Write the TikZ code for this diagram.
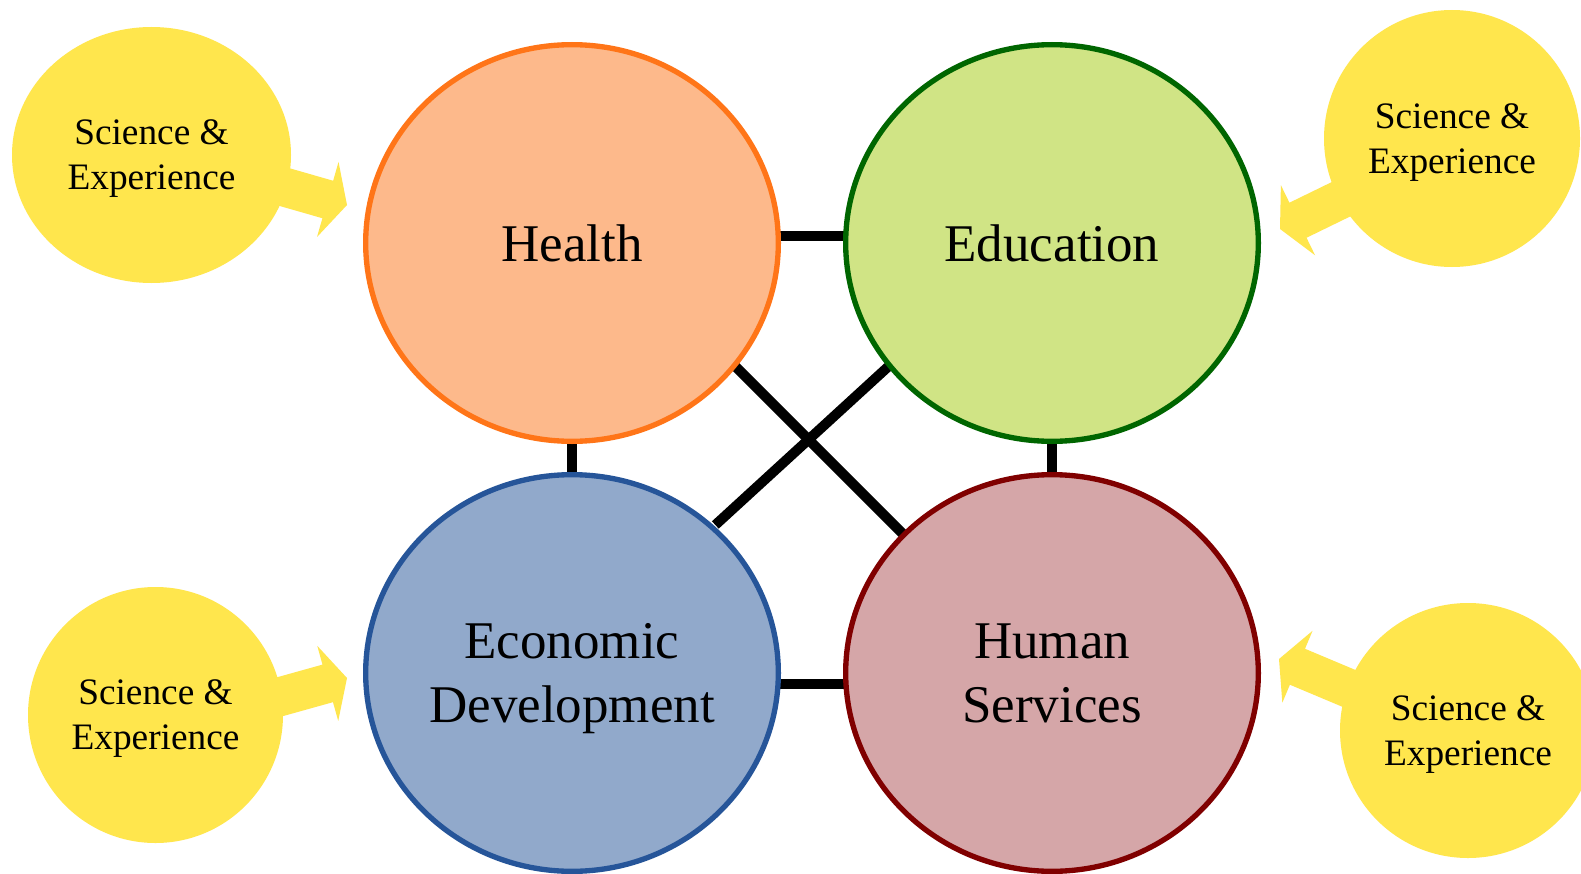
\documentclass[tikz,border=0pt]{standalone}
\usepackage{fontspec}
\setmainfont{Liberation Serif}
\usetikzlibrary{shapes.geometric,backgrounds}
\definecolor{healthfill}{RGB}{253,185,139}
\definecolor{healthline}{RGB}{255,117,24}
\definecolor{edufill}{RGB}{208,228,133}
\definecolor{eduline}{RGB}{0,102,0}
\definecolor{econfill}{RGB}{145,169,203}
\definecolor{econline}{RGB}{38,85,153}
\definecolor{humfill}{RGB}{213,166,168}
\definecolor{humline}{RGB}{128,0,0}
\definecolor{sunyellow}{RGB}{255,230,77}
\newcommand{\sunarrow}[2]{%
  \fill[sunyellow, shift={(#1)}, rotate=#2] (0,0) -- (-20,39) -- (-20,19.5) -- (-130,19.5) -- (-130,-19.5) -- (-20,-19.5) -- (-20,-39) -- cycle;}
\begin{document}
\begin{tikzpicture}[x=0.75pt,y=-0.75pt,
  bigcircle/.style={ellipse, line width=4pt, inner sep=0pt, outer sep=0pt,
    minimum width=309.5pt, minimum height=297.5pt, align=center, text depth=-4pt,
    font=\fontsize{39.75pt}{47.75pt}\selectfont},
  suncircle/.style={ellipse, fill=sunyellow, inner sep=0pt, outer sep=0pt, align=center,
    text depth=-3pt, font=\fontsize{28pt}{33.75pt}\selectfont},
  link/.style={line width=7.5pt, black}]
\begin{scope}[on background layer]
\fill[white] (0,0) rectangle (1581,874);
\end{scope}
\useasboundingbox (0,0) rectangle (1581,874);
% arrows of the yellow circles
\coordinate (tipTL) at (347,205);
\coordinate (tipTR) at (1280,229);
\coordinate (tipBL) at (347,678);
\coordinate (tipBR) at (1279,659);
\sunarrow{tipTL}{-16}
\sunarrow{tipTR}{206}
\sunarrow{tipBL}{15.6}
\sunarrow{tipBR}{157.2}
% yellow circles
\node[suncircle, minimum width=209.25pt, minimum height=192pt] (sTL) at (151.5,155) {Science \&\\Experience};
\node[suncircle, minimum width=192pt, minimum height=192.75pt] (sTR) at (1452,138.5) {Science \&\\Experience};
\node[suncircle, minimum width=191.25pt, minimum height=192pt] (sBL) at (155.5,715) {Science \&\\Experience};
\node[suncircle, minimum width=192pt, minimum height=191.25pt] (sBR) at (1468,730.5) {Science \&\\Experience};
% main circles
\node[bigcircle, draw=healthline, fill=healthfill] (health) at (572,243) {Health};
\node[bigcircle, draw=eduline, fill=edufill] (edu) at (1052,243) {Education};
\node[bigcircle, draw=econline, fill=econfill] (econ) at (572,673) {Economic\\Development};
\node[bigcircle, draw=humline, fill=humfill] (human) at (1052,673) {Human\\Services};
% connectors
\begin{scope}[on background layer]
\draw[link] (health.2) -- (edu.178);
\draw[link] (econ.-3) -- (human.183);
\draw[link] (health.south) -- (econ.north);
\draw[link] (edu.south) -- (human.north);
\draw[link] (health.-37) -- (human.137);
\draw[link, shorten >=3pt] (edu.217) -- (econ.46);
\end{scope}
\end{tikzpicture}
\end{document}
